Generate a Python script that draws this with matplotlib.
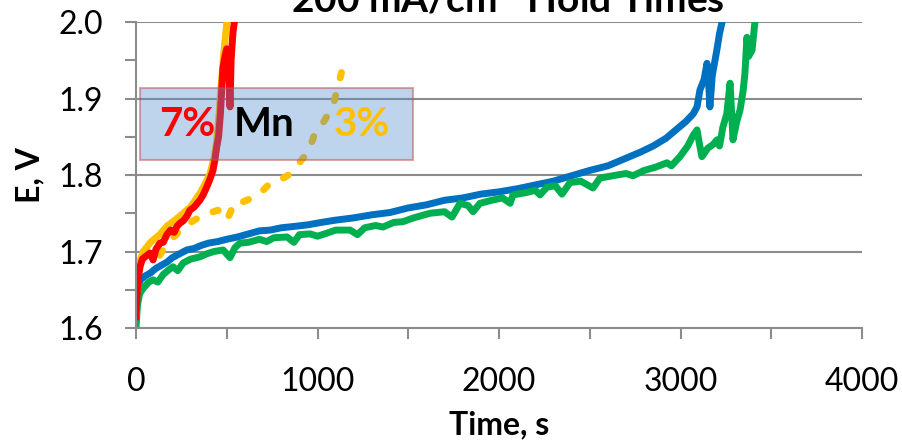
import matplotlib
matplotlib.use("Agg")
import matplotlib.pyplot as plt
from matplotlib.ticker import MultipleLocator
from matplotlib.patches import Rectangle

plt.rcParams['font.family'] = ['Lato', 'DejaVu Sans']

# 7% Mn run (red)
t_red = [0, 5, 10, 22, 35, 50, 77, 94, 110, 132, 150, 170, 190, 210, 226, 242, 260,
         280, 297, 320, 352, 370, 391, 408, 424, 435, 445, 455, 465, 479, 490, 500,
         510, 518, 524, 534, 545, 560]
E_red = [1.615, 1.640, 1.662, 1.680, 1.690, 1.693, 1.698, 1.689, 1.703, 1.711, 1.712,
         1.722, 1.728, 1.725, 1.733, 1.737, 1.740, 1.746, 1.754, 1.758, 1.767, 1.774,
         1.785, 1.795, 1.806, 1.820, 1.837, 1.850, 1.880, 1.940, 1.955, 1.965, 1.955,
         1.889, 1.950, 1.986, 2.005, 2.030]

# 3% Mn run, solid (gold)
t_gold = [0, 5, 10, 22, 40, 80, 130, 170, 220, 260, 300, 352, 380, 408, 430, 445, 458,
          470, 482, 492, 501, 515]
E_gold = [1.620, 1.660, 1.680, 1.688, 1.700, 1.712, 1.722, 1.733, 1.742, 1.750, 1.758,
          1.776, 1.788, 1.802, 1.822, 1.845, 1.880, 1.920, 1.955, 1.980, 2.000, 2.030]

# 3% Mn run, dotted (gold)
t_gold2 = [130, 170, 220, 259, 300, 350, 400, 452, 501, 545, 590, 640, 683, 738, 790,
           840, 880, 920, 950, 990, 1030, 1060, 1090, 1113, 1133, 1152]
E_gold2 = [1.695, 1.710, 1.722, 1.733, 1.738, 1.745, 1.750, 1.754, 1.741, 1.765, 1.765,
           1.770, 1.776, 1.789, 1.793, 1.800, 1.810, 1.822, 1.830, 1.858, 1.868, 1.880,
           1.895, 1.915, 1.935, 1.957]

# blue run
t_blue = [0, 10, 25, 50, 80, 110, 140, 170, 200, 240, 280, 320, 360, 400, 450, 500,
          560, 620, 680, 740, 800, 880, 950, 1020, 1100, 1200, 1300, 1400, 1500, 1600,
          1700, 1800, 1900, 2000, 2100, 2200, 2300, 2400, 2500, 2600, 2700, 2780, 2850,
          2920, 2980, 3030, 3070, 3091, 3107, 3130, 3146, 3155, 3162, 3175, 3200, 3215,
          3229, 3240]
E_blue = [1.640, 1.655, 1.663, 1.668, 1.672, 1.678, 1.682, 1.686, 1.692, 1.697, 1.702,
          1.704, 1.708, 1.711, 1.713, 1.716, 1.719, 1.723, 1.727, 1.728, 1.731, 1.733,
          1.735, 1.738, 1.741, 1.744, 1.748, 1.751, 1.757, 1.761, 1.767, 1.770, 1.775,
          1.778, 1.782, 1.787, 1.792, 1.799, 1.806, 1.812, 1.822, 1.830, 1.838, 1.848,
          1.860, 1.870, 1.880, 1.889, 1.911, 1.925, 1.946, 1.920, 1.889, 1.930, 1.963,
          1.985, 2.000, 2.020]

# green run
t_green = [0, 8, 20, 40, 70, 94, 120, 150, 180, 204, 230, 260, 300, 352, 390, 430, 480,
           518, 545, 573, 620, 680, 720, 760, 832, 870, 900, 960, 1000, 1052, 1100,
           1180, 1220, 1260, 1320, 1361, 1420, 1471, 1530, 1620, 1700, 1741, 1785, 1830,
           1857, 1895, 1960, 2020, 2061, 2077, 2150, 2200, 2226, 2264, 2310, 2347, 2391,
           2450, 2518, 2556, 2650, 2700, 2738, 2800, 2860, 2926, 2950, 2997, 3040, 3070,
           3091, 3105, 3118, 3150, 3180, 3201, 3215, 3234, 3255, 3273, 3282, 3289, 3310,
           3328, 3345, 3355, 3366, 3375, 3394, 3410, 3420]
E_green = [1.600, 1.630, 1.645, 1.652, 1.660, 1.663, 1.660, 1.670, 1.676, 1.680, 1.675,
           1.685, 1.690, 1.693, 1.697, 1.700, 1.702, 1.692, 1.705, 1.711, 1.712, 1.716,
           1.713, 1.718, 1.719, 1.712, 1.722, 1.723, 1.720, 1.724, 1.728, 1.728, 1.722,
           1.731, 1.734, 1.732, 1.738, 1.739, 1.744, 1.750, 1.752, 1.745, 1.763, 1.760,
           1.752, 1.763, 1.767, 1.770, 1.763, 1.774, 1.777, 1.780, 1.774, 1.784, 1.786,
           1.775, 1.790, 1.792, 1.783, 1.796, 1.800, 1.802, 1.799, 1.806, 1.810, 1.816,
           1.812, 1.824, 1.838, 1.852, 1.859, 1.840, 1.824, 1.835, 1.840, 1.846, 1.838,
           1.863, 1.880, 1.920, 1.880, 1.846, 1.870, 1.885, 1.910, 1.933, 1.980, 1.955,
           1.963, 2.000, 2.020]

fig = plt.figure(figsize=(9.02, 4.44), dpi=100)
ax = fig.add_axes([136/902, 1 - 328/444, 726/902, 306/444])

lw = 5
ax.plot(t_blue, E_blue, color='#0070C0', lw=lw, solid_joinstyle='round',
        solid_capstyle='round', zorder=2)
ax.plot(t_green, E_green, color='#00B050', lw=lw, solid_joinstyle='round',
        solid_capstyle='round', zorder=2.1)
ax.plot(t_gold2, E_gold2, color='#FFC000', lw=lw, ls=(0, (0.8, 2.6)),
        dash_capstyle='round', zorder=2.2)
ax.plot(t_gold, E_gold, color='#FFC000', lw=lw, solid_joinstyle='round', zorder=2.3)
ax.plot(t_red, E_red, color='#FF0000', lw=lw, solid_joinstyle='round', zorder=2.4)

ax.set_xlim(0, 4000)
ax.set_ylim(1.6, 2.0)
ax.xaxis.set_major_locator(MultipleLocator(1000))
ax.xaxis.set_minor_locator(MultipleLocator(500))
ax.yaxis.set_major_locator(MultipleLocator(0.1))
ax.yaxis.set_minor_locator(MultipleLocator(0.05))
ax.set_yticklabels([f"{v:.1f}" for v in ax.get_yticks()])
ax.grid(axis='y', which='major', color='#8c8c8c', lw=1.5, zorder=1)
ax.set_axisbelow(True)

for s in ['top', 'right']:
    ax.spines[s].set_visible(False)
for s in ['left', 'bottom']:
    ax.spines[s].set_color('#8c8c8c')
    ax.spines[s].set_linewidth(1.5)

ax.tick_params(axis='both', which='both', color='#8c8c8c', width=1.5, length=8,
               labelsize=23)
ax.tick_params(axis='y', which='both', pad=16)
ax.tick_params(axis='x', which='both', pad=20)

ax.set_xlabel('Time, s', fontsize=23, fontweight='bold', labelpad=10)
ax.set_ylabel('E, V', fontsize=23, fontweight='bold', labelpad=10)

# shaded label box
box = Rectangle((22, 1.820), 1504, 0.094, facecolor=(0.31, 0.545, 0.80, 0.37),
                edgecolor=(0.75, 0.31, 0.30, 0.5), lw=1.5, zorder=3)
ax.add_patch(box)
ax.text(130, 1.866, '7%', color='#FF0000', fontsize=29, fontweight='bold',
        va='center', ha='left', zorder=4)
ax.text(540, 1.866, 'Mn', color='black', fontsize=29, fontweight='bold',
        va='center', ha='left', zorder=4)
ax.text(1090, 1.866, '3%', color='#FFC000', fontsize=29, fontweight='bold',
        va='center', ha='left', zorder=4)

fig.text(508/902, 1 - 12/444, '200 mA/cm$^\\mathbf{2}$ Hold Times', fontsize=28,
         fontweight='bold', ha='center', va='baseline')

fig.savefig('out.png', dpi=100)
